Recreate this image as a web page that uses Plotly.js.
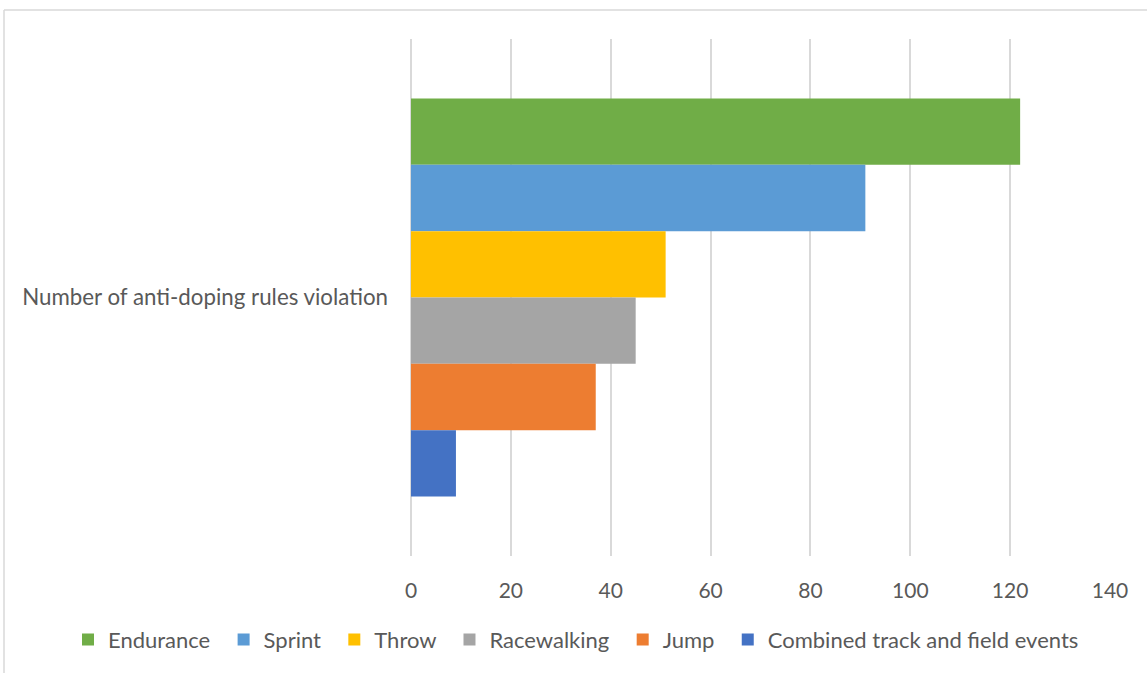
<!DOCTYPE html>
<html><head><meta charset="utf-8">
<script src="https://cdn.plot.ly/plotly-3.0.1.min.js"></script>
<style>html,body{margin:0;padding:0;background:#fff}#chart{width:1147px;height:673px}</style>
</head><body><div id="chart"></div>
<script>
const category = ["Number of anti-doping rules violation"];
const seriesNames = ["Endurance","Sprint","Throw","Racewalking","Jump","Combined track and field events"];
const seriesValues = [122, 91, 51, 45, 37, 9];
const seriesColors = ["#70AD47","#5B9BD5","#FFC000","#A5A5A5","#ED7D31","#4472C4"];
const xTicks = [0,20,40,60,80,100,120,140];

const pad = "\u00a0\u2009";
const traces = seriesNames.map((n,i)=>({
  type:'bar', orientation:'h', name: i < seriesNames.length-1 ? n + pad : n,
  x:[seriesValues[i]], y:category,
  marker:{color:seriesColors[i]},
  hoverinfo:'x+name'
}));

const L=411, R=1110, T=39, B=558, W=1147, H=673;
const px = x => (x-L)/(R-L);
const py = y => (B-y)/(B-T);

const layout = {
  width:W, height:H,
  margin:{l:L, r:W-R, t:T, b:H-B, pad:0},
  paper_bgcolor:'#fff', plot_bgcolor:'#fff',
  font:{family:'Lato, "Open Sans", sans-serif', size:22, color:'#595959'},
  barmode:'group', bargap:0.23, bargroupgap:0,
  showlegend:true,
  legend:{orientation:'h', x:px(68), xanchor:'left', y:py(642), yanchor:'middle',
          bgcolor:'rgba(0,0,0,0)',
          font:{size:22, color:'#595959'}, itemwidth:30, traceorder:'normal'},
  xaxis:{range:[0,140], tickvals:xTicks, showgrid:true, gridcolor:'#d9d9d9', gridwidth:2,
         zeroline:true, zerolinecolor:'#d9d9d9', zerolinewidth:2, showline:false,
         ticks:'', ticklabelstandoff:20, tickfont:{size:21}, fixedrange:true, automargin:false},
  yaxis:{autorange:'reversed', showgrid:false, zeroline:false, showline:false, ticks:'',
         ticklabelstandoff:22, tickfont:{size:22.3}, fixedrange:true, automargin:false},
  shapes:[
    {type:'line', xref:'paper', yref:'paper', x0:px(4), x1:px(1150), y0:py(10), y1:py(10),
     line:{color:'#d9d9d9', width:1.5}},
    {type:'line', xref:'paper', yref:'paper', x0:px(4), x1:px(4), y0:py(10), y1:py(680),
     line:{color:'#d9d9d9', width:1.5}}
  ]
};
Plotly.newPlot('chart', traces, layout, {displayModeBar:false, staticPlot:true});
</script></body></html>
